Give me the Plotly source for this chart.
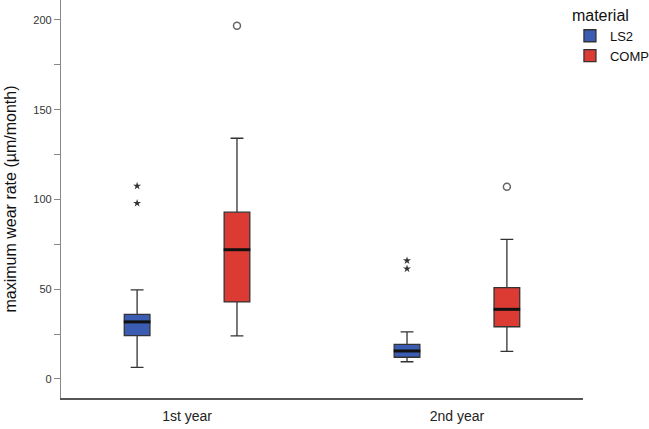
import plotly.graph_objects as go

categories = ["1st year", "2nd year"]
materials = ["LS2", "COMP"]

ls2_q1 = [24.1, 12.1]
ls2_median = [31.8, 15.6]
ls2_q3 = [36.0, 19.3]
ls2_low = [6.5, 9.6]
ls2_high = [49.6, 26.2]
ls2_extreme_x = ["1st year", "1st year", "2nd year", "2nd year"]
ls2_extreme_y = [107.5, 97.9, 65.9, 61.4]

comp_q1 = [42.9, 29.1]
comp_median = [72.0, 38.8]
comp_q3 = [92.9, 50.9]
comp_low = [24.0, 15.4]
comp_high = [134.1, 77.8]
comp_outlier_x = ["1st year", "2nd year"]
comp_outlier_y = [196.8, 107.1]

colors = {"LS2": "#3b5cb3", "COMP": "#dc3b33"}
font = "Liberation Sans, Arial, sans-serif"

fig = go.Figure()
stats = {
    "LS2": (ls2_q1, ls2_median, ls2_q3, ls2_low, ls2_high),
    "COMP": (comp_q1, comp_median, comp_q3, comp_low, comp_high),
}
for m in materials:
    q1, med, q3, lo, hi = stats[m]
    fig.add_trace(go.Box(
        x=categories, q1=q1, median=med, q3=q3, lowerfence=lo, upperfence=hi,
        name=m, offsetgroup=m, fillcolor=colors[m],
        line=dict(color="#333333", width=1.3), whiskerwidth=0.5,
        boxpoints=False, hoverinfo="skip",
    ))
for m in materials:
    med = stats[m][1]
    fig.add_trace(go.Scatter(
        x=categories, y=med, mode="markers", offsetgroup=m, showlegend=False,
        marker=dict(symbol="line-ew", size=19, line=dict(color="#111111", width=3)),
        hoverinfo="skip",
    ))

fig.add_trace(go.Scatter(
    x=ls2_extreme_x, y=ls2_extreme_y, mode="markers", offsetgroup="LS2", showlegend=False,
    marker=dict(symbol="star", size=6, color="#333333"), hoverinfo="skip",
))
fig.add_trace(go.Scatter(
    x=comp_outlier_x, y=comp_outlier_y, mode="markers", offsetgroup="COMP", showlegend=False,
    marker=dict(symbol="circle-open", size=7, color="#666666", line=dict(width=1.5)),
    hoverinfo="skip",
))

fig.update_layout(
    width=649, height=429,
    margin=dict(l=61, r=66, t=0, b=31, autoexpand=False),
    paper_bgcolor="white", plot_bgcolor="white",
    font=dict(family=font, color="#222222"),
    boxmode="group", boxgap=0.26, boxgroupgap=0.743,
    scattermode="group", scattergap=0.26,
    legend=dict(
        title=dict(text="material", font=dict(size=16, color="#111111")),
        x=0.975, xanchor="left", y=1.0, yanchor="top",
        font=dict(size=13, color="#111111"), itemwidth=30, tracegroupgap=0,
        bgcolor="rgba(0,0,0,0)",
    ),
    showlegend=True,
)
fig.update_xaxes(
    type="category", categoryorder="array", categoryarray=categories,
    range=[-0.467, 1.467],
    showline=True, linecolor="#555555", linewidth=1.5,
    ticks="", showgrid=False, zeroline=False, automargin=False,
    ticklabelstandoff=4,
    tickfont=dict(size=14, color="#222222"),
)
fig.update_yaxes(
    range=[-10.6, 211.1],
    tickvals=[0, 50, 100, 150, 200],
    showline=True, linecolor="#888888", linewidth=1.2,
    ticks="outside", ticklen=6, tickcolor="#888888",
    minor=dict(tickvals=[25, 75, 125, 175], ticks="outside", ticklen=6, tickcolor="#888888"),
    showgrid=False, zeroline=False, automargin=False,
    tickfont=dict(size=11, color="#333333"),
    title=dict(text="maximum wear rate (µm/month)", font=dict(size=16, color="#111111"), standoff=12),
)

fig.write_html("out.html", config={"displayModeBar": False},
               post_script="document.body.style.margin='0';")
